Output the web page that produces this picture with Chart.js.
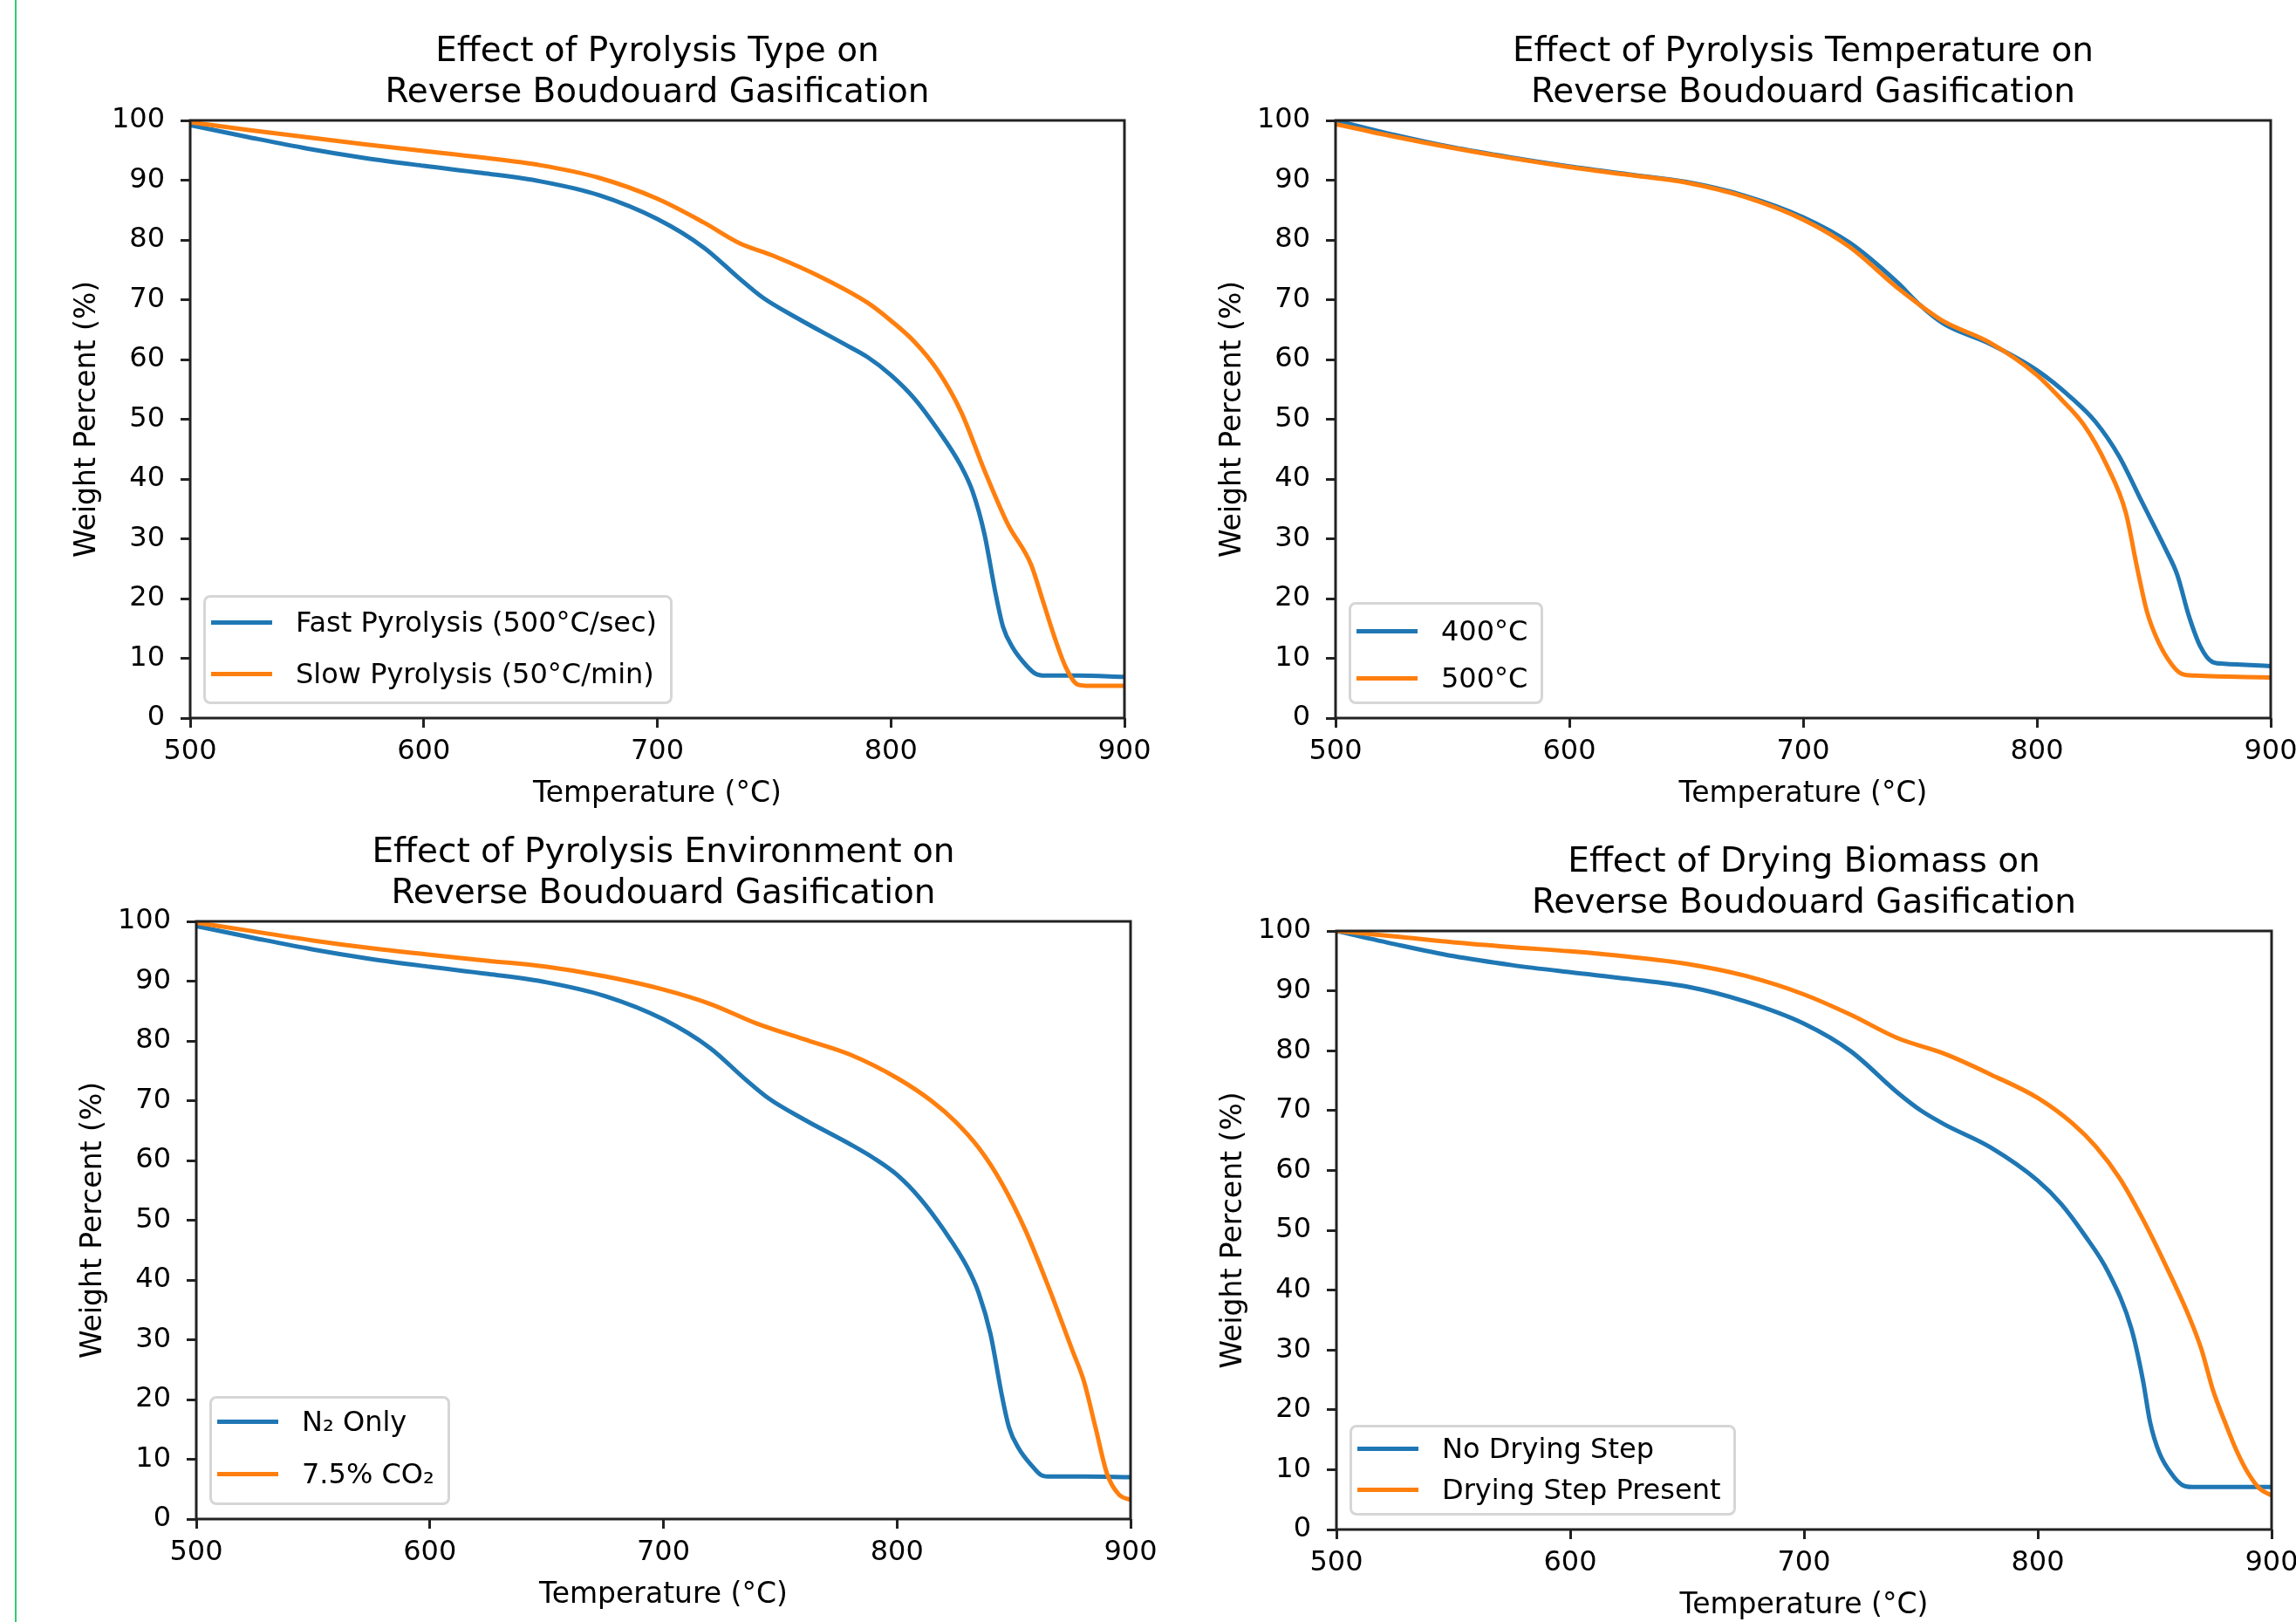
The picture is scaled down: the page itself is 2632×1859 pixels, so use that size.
<!DOCTYPE html>
<html>
<head>
<meta charset="utf-8">
<script src="https://cdn.jsdelivr.net/npm/chart.js@4.4.0/dist/chart.umd.min.js"></script>
<style>
  html, body { margin: 0; padding: 0; background: #fff; overflow: hidden; }
  body { width: 2632px; height: 1859px; position: relative; }
  canvas { position: absolute; }
  #edge { position: absolute; left: 17px; top: 0; width: 2px; height: 1859px; background: #33cc70; }
  .legend {
    position: absolute; box-sizing: border-box;
    border: 3px solid #d6d6d6; border-radius: 8px;
    background: rgba(255, 255, 255, 0.8);
    padding: 0 15px 0 6px;
    font-family: "DejaVu Sans", sans-serif; font-size: 32px; color: #000;
  }
  .legend .row { position: relative; height: 40px; line-height: 40px; padding-left: 97px; white-space: nowrap; }
  .legend .swatch { position: absolute; left: 0; top: 17.5px; width: 70px; height: 5px; }
</style>
</head>
<body>
<div id="edge"></div>
<canvas id="c1" width="1350" height="940" style="left:0px;top:0px"></canvas>
<canvas id="c2" width="1300" height="940" style="left:1350px;top:0px"></canvas>
<canvas id="c3" width="1350" height="940" style="left:0px;top:930px"></canvas>
<canvas id="c4" width="1300" height="940" style="left:1350px;top:930px"></canvas>
<script>
// axis text
const xLabel = "Temperature (°C)";
const yLabel = "Weight Percent (%)";
const xTicks = [500, 600, 700, 800, 900];
const yTicks = [0, 10, 20, 30, 40, 50, 60, 70, 80, 90, 100];

// Effect of pyrolysis type
const fastTemp = [500, 525, 550, 575, 600, 625, 650, 675, 700, 720, 735, 745, 760, 780, 790, 800, 810, 820, 830, 835, 840, 845, 848, 852, 858, 862, 866, 880, 900];
const fastWeight = [99.2, 97.2, 95.3, 93.7, 92.4, 91.2, 89.8, 87.5, 83.5, 78.7, 73.6, 70.4, 66.9, 62.6, 60.4, 57.4, 53.5, 48.3, 42.2, 37.9, 30.9, 20.5, 15.3, 11.9, 8.8, 7.4, 7.1, 7.1, 6.9];
const slowTemp = [500, 525, 550, 575, 600, 625, 650, 675, 700, 720, 735, 750, 770, 790, 800, 810, 820, 830, 840, 850, 860, 865, 870, 875, 880, 885, 900];
const slowWeight = [99.7, 98.4, 97.2, 96.0, 94.9, 93.8, 92.5, 90.4, 86.9, 82.9, 79.5, 77.3, 73.8, 69.5, 66.5, 63.0, 58.2, 51.3, 41.5, 32.5, 25.7, 19.7, 13.6, 8.4, 5.6, 5.4, 5.4];

// Effect of pyrolysis temperature
const t400Temp = [500, 525, 550, 575, 600, 625, 650, 675, 700, 720, 740, 750, 760, 780, 800, 815, 825, 835, 845, 855, 860, 865, 870, 875, 880, 900];
const t400Weight = [100, 97.6, 95.5, 93.8, 92.3, 91.0, 89.7, 87.4, 83.8, 79.5, 73.0, 69.1, 66.0, 62.6, 58.2, 53.5, 49.6, 43.9, 36.1, 28.3, 24.0, 17.1, 11.9, 9.4, 9.1, 8.7];
const t500Temp = [500, 525, 550, 575, 600, 625, 650, 675, 700, 720, 740, 750, 760, 780, 800, 810, 820, 830, 838, 843, 847, 852, 858, 862, 868, 900];
const t500Weight = [99.4, 97.3, 95.4, 93.7, 92.2, 90.9, 89.6, 87.2, 83.4, 78.8, 72.1, 69.1, 66.4, 62.8, 57.4, 53.5, 49.1, 42.2, 34.4, 24.9, 17.9, 12.7, 8.8, 7.4, 7.1, 6.8];

// Effect of pyrolysis environment
const n2Temp = [500, 525, 550, 575, 600, 625, 650, 675, 700, 720, 735, 745, 760, 780, 790, 800, 810, 820, 830, 835, 840, 845, 848, 852, 858, 862, 866, 880, 900];
const n2Weight = [99.2, 97.2, 95.3, 93.7, 92.4, 91.2, 89.8, 87.5, 83.6, 78.8, 73.6, 70.4, 66.9, 62.7, 60.4, 57.6, 53.6, 48.4, 42.2, 37.8, 31.0, 20.5, 15.3, 11.9, 8.8, 7.3, 7.1, 7.1, 7.0];
const co2Temp = [500, 525, 550, 575, 600, 625, 650, 675, 700, 720, 740, 760, 780, 800, 815, 825, 835, 845, 855, 865, 875, 880, 885, 890, 895, 900];
const co2Weight = [99.8, 98.3, 96.8, 95.5, 94.4, 93.4, 92.4, 90.8, 88.6, 86.2, 82.9, 80.3, 77.7, 73.8, 69.9, 66.5, 62.1, 56.1, 48.3, 38.7, 28.3, 23.1, 15.3, 7.5, 4.1, 3.2];

// Effect of drying biomass
const noDryTemp = [500, 525, 550, 575, 600, 625, 650, 675, 700, 720, 740, 750, 760, 780, 800, 810, 820, 830, 840, 845, 848, 852, 858, 862, 866, 900];
const noDryWeight = [100, 97.8, 95.8, 94.3, 93.1, 92.0, 90.7, 88.2, 84.5, 79.9, 73.0, 70.0, 67.7, 63.8, 58.3, 54.4, 49.2, 43.1, 33.6, 24.9, 18.0, 12.8, 8.9, 7.4, 7.1, 7.1];
const dryTemp = [500, 525, 550, 575, 600, 625, 650, 675, 700, 720, 740, 760, 780, 800, 815, 825, 835, 845, 855, 865, 870, 875, 880, 885, 890, 895, 900];
const dryWeight = [100, 99.1, 98.1, 97.3, 96.6, 95.7, 94.5, 92.5, 89.4, 86.0, 82.1, 79.5, 76.0, 72.1, 67.8, 63.9, 58.7, 51.8, 43.9, 35.3, 30.1, 23.2, 18.0, 13.2, 9.4, 6.8, 5.7];

const blue = "#1f77b4";
const orange = "#ff7f0e";

Chart.defaults.font.family = "'DejaVu Sans', sans-serif";
Chart.defaults.color = "#000";

function pts(xs, ys) {
  return xs.map((x, i) => ({ x: x, y: ys[i] }));
}

// box = canvas [left, top, width, height]; plot = [left, right, top, bottom] in page pixels
const panels = [
  {
    id: "c1", box: [0, 0, 1350, 940], plot: [218, 1289, 138, 823],
    title: ["Effect of Pyrolysis Type on", "Reverse Boudouard Gasification"],
    series: [
      { label: "Fast Pyrolysis (500°C/sec)", x: fastTemp, y: fastWeight, color: blue },
      { label: "Slow Pyrolysis (50°C/min)", x: slowTemp, y: slowWeight, color: orange }
    ],
    legend: { h: 125, first: 31, gap: 59 }
  },
  {
    id: "c2", box: [1350, 0, 1300, 940], plot: [1531, 2603, 138, 823],
    title: ["Effect of Pyrolysis Temperature on", "Reverse Boudouard Gasification"],
    series: [
      { label: "400°C", x: t400Temp, y: t400Weight, color: blue },
      { label: "500°C", x: t500Temp, y: t500Weight, color: orange }
    ],
    legend: { h: 117, first: 33, gap: 54 }
  },
  {
    id: "c3", box: [0, 930, 1350, 940], plot: [225, 1296, 1056, 1741],
    title: ["Effect of Pyrolysis Environment on", "Reverse Boudouard Gasification"],
    series: [
      { label: "N₂ Only", x: n2Temp, y: n2Weight, color: blue },
      { label: "7.5% CO₂", x: co2Temp, y: co2Weight, color: orange }
    ],
    legend: { h: 125, first: 29, gap: 60 }
  },
  {
    id: "c4", box: [1350, 930, 1300, 940], plot: [1532, 2604, 1067, 1753],
    title: ["Effect of Drying Biomass on", "Reverse Boudouard Gasification"],
    series: [
      { label: "No Drying Step", x: noDryTemp, y: noDryWeight, color: blue },
      { label: "Drying Step Present", x: dryTemp, y: dryWeight, color: orange }
    ],
    legend: { h: 104, first: 27, gap: 47 }
  }
];

// box around the plot area, like matplotlib spines
const framePlugin = {
  id: "frame",
  afterDatasetsDraw(chart) {
    const { ctx, chartArea: a } = chart;
    ctx.save();
    ctx.strokeStyle = "#222";
    ctx.lineWidth = 3;
    ctx.strokeRect(a.left, a.top, a.right - a.left, a.bottom - a.top);
    ctx.restore();
  }
};

function buildLegend(chart, p) {
  const ca = chart.chartArea;
  const lg = p.legend;
  const box = document.createElement("div");
  box.className = "legend";
  box.style.left = (p.box[0] + ca.left + 15) + "px";
  box.style.top = (p.box[1] + ca.bottom - 16 - lg.h) + "px";
  box.style.height = lg.h + "px";
  box.style.paddingTop = (lg.first - 3 - 20) + "px";
  chart.data.datasets.forEach((ds, i) => {
    const row = document.createElement("div");
    row.className = "row";
    if (i > 0) row.style.marginTop = (lg.gap - 40) + "px";
    const sw = document.createElement("span");
    sw.className = "swatch";
    sw.style.background = ds.borderColor;
    row.appendChild(sw);
    row.appendChild(document.createTextNode(ds.label));
    box.appendChild(row);
  });
  document.body.appendChild(box);
}

panels.forEach(p => {
  const [cx, cy, cw, ch] = p.box;
  const [L, R, T, B] = p.plot;
  const titleLH = 39 * 1.2;
  const titleTop = (T - cy) - 78 - titleLH / 2;
  const yW = L - cx;
  const xH = 107;

  const chart = new Chart(document.getElementById(p.id), {
    type: "line",
    data: {
      datasets: p.series.map((s, i) => ({
        label: s.label,
        data: pts(s.x, s.y),
        borderColor: s.color,
        backgroundColor: s.color,
        borderWidth: 5,
        pointRadius: 0,
        fill: false,
        cubicInterpolationMode: "monotone",
        order: p.series.length - i
      }))
    },
    options: {
      responsive: false,
      animation: false,
      devicePixelRatio: 1,
      layout: {
        padding: { left: 0, top: 0, right: (cx + cw) - R, bottom: (cy + ch) - (B + xH) }
      },
      plugins: {
        legend: { display: false },
        tooltip: { enabled: false },
        title: {
          display: true,
          text: p.title,
          fullSize: false,
          color: "#000",
          font: { size: 39, weight: "normal", lineHeight: 1.2 },
          padding: { top: titleTop, bottom: (T - cy) - titleTop - 2 * titleLH }
        }
      },
      scales: {
        x: {
          type: "linear",
          min: xTicks[0],
          max: xTicks[xTicks.length - 1],
          afterBuildTicks: s => { s.ticks = xTicks.map(v => ({ value: v })); },
          afterFit: s => { s.height = xH; s.paddingLeft = 0; s.paddingRight = 0; },
          border: { display: false },
          grid: { drawOnChartArea: false, drawTicks: true, tickLength: 11, tickWidth: 3, tickColor: "#222" },
          ticks: { autoSkip: false, maxRotation: 0, padding: 8, color: "#000", font: { size: 32 } },
          title: { display: true, text: xLabel, color: "#000", font: { size: 33 }, padding: { top: 0, bottom: 0 } }
        },
        y: {
          min: yTicks[0],
          max: yTicks[yTicks.length - 1],
          afterBuildTicks: s => { s.ticks = yTicks.map(v => ({ value: v })); },
          afterFit: s => { s.width = yW; s.paddingTop = 0; s.paddingBottom = 0; },
          border: { display: false },
          grid: { drawOnChartArea: false, drawTicks: true, tickLength: 11, tickWidth: 3, tickColor: "#222" },
          ticks: { autoSkip: false, padding: 18, color: "#000", font: { size: 32 } },
          title: { display: true, text: yLabel, color: "#000", font: { size: 33 }, padding: { top: yW - 118 - 19.8, bottom: 0 } }
        }
      }
    },
    plugins: [framePlugin]
  });

  buildLegend(chart, p);
});
</script>
</body>
</html>
